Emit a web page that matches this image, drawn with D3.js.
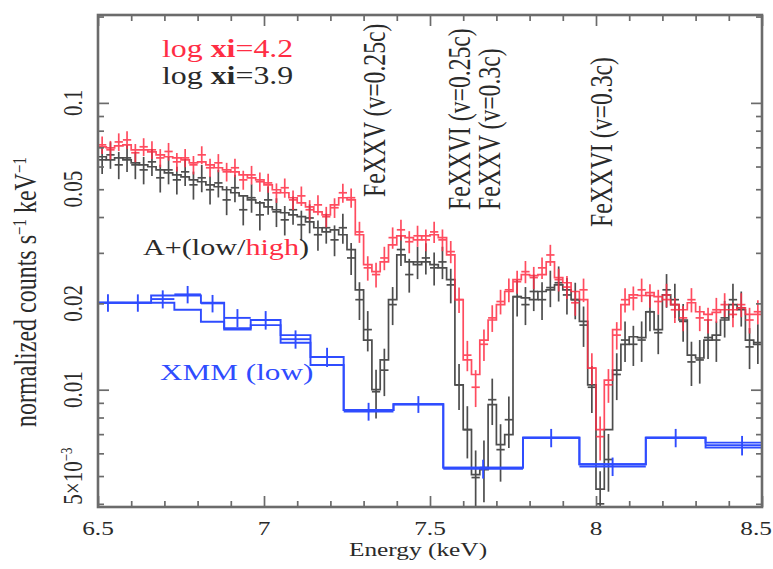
<!DOCTYPE html>
<html>
<head>
<meta charset="utf-8">
<script src="https://cdn.jsdelivr.net/npm/d3@7"></script>
<style>
  html, body { margin: 0; padding: 0; background: #fff; }
  svg { display: block; }
  text { font-family: "Liberation Serif", "Times New Roman", serif; }
</style>
</head>
<body>
<svg id="chart" width="773" height="569"></svg>
<script>
// ---- Suzaku spectra: 25 eV bins (centre energies, keV) ----
const suzakuEnergy = [6.5125,6.5375,6.5625,6.5875,6.6125,6.6375,6.6625,6.6875,6.7125,6.7375,
  6.7625,6.7875,6.8125,6.8375,6.8625,6.8875,6.9125,6.9375,6.9625,6.9875,
  7.0125,7.0375,7.0625,7.0875,7.1125,7.1375,7.1625,7.1875,7.2125,7.2375,
  7.2625,7.2875,7.3125,7.3375,7.3625,7.3875,7.4125,7.4375,7.4625,7.4875,
  7.5125,7.5375,7.5625,7.5875,7.6125,7.6375,7.6625,7.6875,7.7125,7.7375,
  7.7625,7.7875,7.8125,7.8375,7.8625,7.8875,7.9125,7.9375,7.9625,7.9875,
  8.0125,8.0375,8.0625,8.0875,8.1125,8.1375,8.1625,8.1875,8.2125,8.2375,
  8.2625,8.2875,8.3125,8.3375,8.3625,8.3875,8.4125,8.4375,8.4625,8.4875];
const suzakuHalfWidth = 0.0125;

// high state (log xi = 4.2)
const highData = [0.0714,0.0686,0.0731,0.0743,0.0670,0.0703,0.0686,0.0643,0.0677,0.0623,
  0.0643,0.0608,0.0659,0.0594,0.0618,0.0575,0.0594,0.0539,0.0561,0.0531,
  0.0526,0.0486,0.0506,0.0459,0.0474,0.0424,0.0441,0.0401,0.0431,0.0486,
  0.0467,0.0355,0.0266,0.0252,0.0288,0.0339,0.0361,0.0328,0.0344,0.0333,
  0.0355,0.0333,0.0303,0.0206,0.0132,0.0102,0.0144,0.0178,0.0203,0.0223,
  0.0238,0.0258,0.0246,0.0266,0.0295,0.0242,0.0228,0.0201,0.0223,0.0119,
  0.00686,0.0104,0.0155,0.0206,0.0209,0.0223,0.0213,0.0203,0.0214,0.0190,
  0.0178,0.0206,0.0178,0.0175,0.0190,0.0198,0.0183,0.0198,0.0175,0.0187];
const highErr = [0.0050,0.0051,0.0052,0.0053,0.0049,0.0050,0.0049,0.0047,0.0048,0.0046,
  0.0047,0.0045,0.0047,0.0044,0.0045,0.0043,0.0044,0.0041,0.0042,0.0041,
  0.0040,0.0038,0.0039,0.0036,0.0037,0.0034,0.0035,0.0033,0.0034,0.0037,
  0.0036,0.0030,0.0026,0.0025,0.0027,0.0029,0.0030,0.0029,0.0029,0.0029,
  0.0030,0.0029,0.0027,0.0021,0.0016,0.0015,0.0018,0.0019,0.0020,0.0021,
  0.0022,0.0023,0.0022,0.0023,0.0025,0.0022,0.0021,0.0020,0.0021,0.0015,
  0.0012,0.0014,0.0017,0.0020,0.0020,0.0021,0.0020,0.0020,0.0020,0.0019,
  0.0018,0.0020,0.0018,0.0018,0.0019,0.0019,0.0018,0.0019,0.0018,0.0018];
const highModel = [0.0703,0.0697,0.0708,0.0714,0.0686,0.0686,0.0675,0.0659,0.0649,0.0643,
  0.0633,0.0618,0.0623,0.0608,0.0594,0.0584,0.0575,0.0561,0.0548,0.0539,
  0.0518,0.0498,0.0486,0.0467,0.0448,0.0434,0.0417,0.0407,0.0441,0.0467,
  0.0459,0.0347,0.0273,0.0258,0.0279,0.0320,0.0344,0.0339,0.0333,0.0344,
  0.0347,0.0339,0.0295,0.0206,0.0127,0.0113,0.0149,0.0175,0.0198,0.0220,
  0.0242,0.0252,0.0250,0.0252,0.0279,0.0246,0.0236,0.0220,0.0206,0.0119,
  0.00726,0.0108,0.0162,0.0198,0.0214,0.0213,0.0218,0.0211,0.0206,0.0198,
  0.0190,0.0201,0.0187,0.0183,0.0186,0.0190,0.0190,0.0193,0.0183,0.0183];

// low state (log xi = 3.9)
const lowData = [0.0633,0.0659,0.0608,0.0643,0.0608,0.0584,0.0623,0.0548,0.0584,0.0539,
  0.0575,0.0518,0.0548,0.0498,0.0526,0.0459,0.0506,0.0424,0.0467,0.0407,
  0.0459,0.0417,0.0391,0.0424,0.0376,0.0397,0.0347,0.0367,0.0333,0.0367,
  0.0288,0.0206,0.0162,0.00984,0.0117,0.0198,0.0308,0.0252,0.0279,0.0288,
  0.0266,0.0279,0.0232,0.0104,0.00726,0.00494,0.00535,0.00923,0.00618,0.00786,
  0.0211,0.0198,0.0220,0.0206,0.0227,0.0236,0.0214,0.0206,0.0168,0.0102,
  0.0040,0.00571,0.0113,0.0149,0.0144,0.0149,0.0187,0.0158,0.0223,0.0206,
  0.0173,0.0125,0.0127,0.0152,0.0149,0.0178,0.0206,0.0193,0.0141,0.0146];
const lowErr = [0.0068,0.0070,0.0066,0.0069,0.0066,0.0064,0.0067,0.0061,0.0064,0.0060,
  0.0062,0.0058,0.0060,0.0056,0.0058,0.0053,0.0056,0.0050,0.0053,0.0048,
  0.0052,0.0048,0.0046,0.0048,0.0045,0.0046,0.0042,0.0044,0.0041,0.0044,
  0.0037,0.0031,0.0026,0.0019,0.0022,0.0030,0.0038,0.0034,0.0036,0.0036,
  0.0035,0.0036,0.0032,0.0019,0.0015,0.0012,0.0013,0.0017,0.0014,0.0016,
  0.0031,0.0030,0.0032,0.0031,0.0033,0.0033,0.0031,0.0030,0.0027,0.0019,
  0.0012,0.0013,0.0021,0.0024,0.0023,0.0024,0.0027,0.0025,0.0030,0.0028,
  0.0026,0.0022,0.0022,0.0024,0.0024,0.0026,0.0028,0.0027,0.0023,0.0023];
const lowModel = [0.0649,0.0633,0.0643,0.0633,0.0618,0.0608,0.0599,0.0584,0.0570,0.0561,
  0.0552,0.0539,0.0531,0.0518,0.0510,0.0498,0.0486,0.0474,0.0459,0.0448,
  0.0434,0.0424,0.0414,0.0407,0.0401,0.0385,0.0367,0.0355,0.0361,0.0347,
  0.0308,0.0223,0.0149,0.0100,0.0127,0.0206,0.0295,0.0279,0.0273,0.0279,
  0.0273,0.0266,0.0242,0.0104,0.00726,0.00506,0.00526,0.00887,0.00643,0.00697,
  0.0211,0.0209,0.0206,0.0220,0.0223,0.0232,0.0223,0.0206,0.0173,0.0104,
  0.0045,0.00726,0.0117,0.0144,0.0153,0.0152,0.0187,0.0162,0.0214,0.0198,
  0.0175,0.0132,0.0129,0.0149,0.0155,0.0175,0.0198,0.0190,0.0149,0.0144];

// ---- XMM-Newton spectrum (low state), coarse bins ----
const xmmEdges = [6.48,6.58,6.66,6.73,6.81,6.88,6.96,7.05,7.14,7.24,7.39,7.54,7.78,7.95,8.15,8.33,8.55];
const xmmData  = [0.0201,0.0201,0.0207,0.0215,0.0200,0.0178,0.0175,0.0150,0.0130,0.0084,0.0089,0.0053,0.0068,0.0054,0.0068,0.0064];
const xmmErr   = [0.0014,0.0014,0.0015,0.0015,0.0014,0.0013,0.0013,0.0011,0.0010,0.0006,0.0006,0.0004,0.0005,0.0004,0.0005,0.0005];
const xmmModelA = [0.0201,0.0201,0.0213,0.0213,0.0201,0.0164,0.0175,0.0155,0.0130,0.0085,0.0089,0.00535,0.0068,0.0055,0.0068,0.00654];
const xmmModelB = [0.0201,0.0201,0.0201,0.0190,0.01725,0.0162,0.0168,0.01458,0.0122,0.0085,0.0089,0.00535,0.0068,0.0055,0.0068,0.00628];

// ---- axes ----
const xTickValues = [6.5, 7, 7.5, 8, 8.5];
const xTickLabels = ["6.5", "7", "7.5", "8", "8.5"];
const yTickValues = [0.005, 0.01, 0.02, 0.05, 0.1];
const yTickLabels = ["5×10", "0.01", "0.02", "0.05", "0.1"];

// ---- absorption line identifications ----
const lineNames  = ["FeXXV (v=0.25c)", "FeXXVI (v=0.25c)", "FeXXV (v=0.3c)", "FeXXVI (v=0.3c)"];
const lineEnergy = [7.364, 7.620, 7.711, 8.048];

// ---- colours ----
const RED = "#ff2d44", BLACK = "#3a3a3a", BLUE = "#2f4cff", FRAME = "#6b6b6b", INK = "#2a2a2a";

const svg = d3.select("#chart");
const W = 773, H = 569;
const plot = { left: 98, right: 762, top: 15, bottom: 507 };
const STRETCH = 1.3; // glyphs in this figure are drawn horizontally widened

const x = d3.scaleLinear().domain([6.5, 8.5]).range([plot.left, plot.right]);
const y = d3.scaleLog().domain([0.0039, 0.2025]).range([plot.bottom, plot.top]);

svg.append("rect").attr("width", W).attr("height", H).attr("fill", "#fff");

svg.append("defs").append("clipPath").attr("id", "plotClip")
  .append("rect")
  .attr("x", plot.left).attr("y", plot.top)
  .attr("width", plot.right - plot.left).attr("height", plot.bottom - plot.top);

const dataLayer = svg.append("g").attr("clip-path", "url(#plotClip)");

// step-histogram model through consecutive bins
function stepModel(g, lo, hi, vals, color, width) {
  const pts = lo.map((e, i) => [e, vals[i]]);
  pts.push([hi[hi.length - 1], vals[vals.length - 1]]);
  const line = d3.line().x(d => x(d[0])).y(d => y(d[1])).curve(d3.curveStepAfter);
  g.append("path").attr("d", line(pts))
    .attr("fill", "none").attr("stroke", color).attr("stroke-width", width)
    .attr("stroke-linejoin", "miter");
}

// data crosses: bin-wide horizontal bar plus 1-sigma vertical bar
function crosses(g, lo, hi, mid, vals, errs, color, width) {
  const grp = g.append("g").attr("stroke", color).attr("stroke-width", width);
  vals.forEach((v, i) => {
    grp.append("line")
      .attr("x1", x(lo[i])).attr("x2", x(hi[i]))
      .attr("y1", y(v)).attr("y2", y(v));
    const lowV = Math.max(v - errs[i], 0.0025);
    grp.append("line")
      .attr("x1", x(mid[i])).attr("x2", x(mid[i]))
      .attr("y1", y(lowV)).attr("y2", y(v + errs[i]));
  });
}

const sLo = suzakuEnergy.map(e => e - suzakuHalfWidth);
const sHi = suzakuEnergy.map(e => e + suzakuHalfWidth);

// low state (black)
const gLow = dataLayer.append("g").attr("opacity", 0.9);
crosses(gLow, sLo, sHi, suzakuEnergy, lowData, lowErr, BLACK, 1.7);
stepModel(gLow, sLo, sHi, lowModel, BLACK, 1.7);

// high state (red)
const gHigh = dataLayer.append("g").attr("opacity", 0.85);
crosses(gHigh, sLo, sHi, suzakuEnergy, highData, highErr, RED, 1.7);
stepModel(gHigh, sLo, sHi, highModel, RED, 1.7);

// XMM (blue)
const xLo = xmmEdges.slice(0, -1), xHi = xmmEdges.slice(1);
const xMid = xLo.map((e, i) => (e + xHi[i]) / 2);
const gXmm = dataLayer.append("g");
stepModel(gXmm, xLo, xHi, xmmModelA, BLUE, 1.9);
stepModel(gXmm, xLo, xHi, xmmModelB, BLUE, 1.9);
crosses(gXmm, xLo, xHi, xMid, xmmData, xmmErr, BLUE, 1.9);

// ---- frame and ticks ----
const axes = svg.append("g");
const xMinor = x.ticks(20).filter(t => !xTickValues.some(v => Math.abs(v - t) < 1e-6));
const yMajor = [0.01, 0.1];
const yMinorOnly = y.ticks().filter(t => !yMajor.some(v => Math.abs(v - t) < 1e-9));

function styleAxis(g) {
  g.select(".domain").remove();
  g.selectAll("line").attr("stroke", FRAME).attr("stroke-width", 1.7);
}
const MAJ = 11, MIN = 6;
axes.append("g").attr("transform", `translate(0,${plot.bottom})`)
  .call(d3.axisBottom(x).tickValues(xTickValues).tickSize(-MAJ).tickFormat("")).call(styleAxis);
axes.append("g").attr("transform", `translate(0,${plot.bottom})`)
  .call(d3.axisBottom(x).tickValues(xMinor).tickSize(-MIN).tickFormat("")).call(styleAxis);
axes.append("g").attr("transform", `translate(0,${plot.top})`)
  .call(d3.axisTop(x).tickValues(xTickValues).tickSize(-MAJ).tickFormat("")).call(styleAxis);
axes.append("g").attr("transform", `translate(0,${plot.top})`)
  .call(d3.axisTop(x).tickValues(xMinor).tickSize(-MIN).tickFormat("")).call(styleAxis);
axes.append("g").attr("transform", `translate(${plot.left},0)`)
  .call(d3.axisLeft(y).tickValues(yMajor).tickSize(-MAJ).tickFormat("")).call(styleAxis);
axes.append("g").attr("transform", `translate(${plot.left},0)`)
  .call(d3.axisLeft(y).tickValues(yMinorOnly).tickSize(-MIN).tickFormat("")).call(styleAxis);
axes.append("g").attr("transform", `translate(${plot.right},0)`)
  .call(d3.axisRight(y).tickValues(yMajor).tickSize(-MAJ).tickFormat("")).call(styleAxis);
axes.append("g").attr("transform", `translate(${plot.right},0)`)
  .call(d3.axisRight(y).tickValues(yMinorOnly).tickSize(-MIN).tickFormat("")).call(styleAxis);

axes.append("rect")
  .attr("x", plot.left).attr("y", plot.top)
  .attr("width", plot.right - plot.left).attr("height", plot.bottom - plot.top)
  .attr("fill", "none").attr("stroke", FRAME).attr("stroke-width", 2.6);

// ---- text helpers ----
function hText(px, py, size, anchor) {
  return svg.append("text")
    .attr("transform", `translate(${px},${py}) scale(${STRETCH},1)`)
    .attr("font-size", size).attr("text-anchor", anchor || "start").attr("fill", INK);
}
function vText(px, py, size, anchor) {
  return svg.append("text")
    .attr("transform", `translate(${px},${py}) scale(${STRETCH},1) rotate(-90)`)
    .attr("font-size", size).attr("text-anchor", anchor || "start").attr("fill", INK);
}

// x tick labels (the last one is kept inside the page edge)
xTickValues.forEach((v, i) => {
  const last = i === xTickValues.length - 1;
  hText(last ? W - 1 : x(v), 535, 19.5, last ? "end" : "middle").text(xTickLabels[i]);
});
hText(418, 556, 19.5, "middle").text("Energy (keV)");

// y tick labels (rotated)
yTickValues.forEach((v, i) => {
  const t = vText(82, y(v), 21, "middle").text(yTickLabels[i]);
  if (v === 0.005) {
    t.append("tspan").attr("dy", -8).attr("font-size", 13).text("−3");
  }
});

// y axis title
const yt = vText(36, 292, 24, "middle");
yt.append("tspan").text("normalized counts s");
yt.append("tspan").attr("dy", -8).attr("font-size", 15).text("−1");
yt.append("tspan").attr("dy", 8).text(" keV");
yt.append("tspan").attr("dy", -8).attr("font-size", 15).text("−1");

// line identifications
const lineBottoms = [197, 210, 210, 227];
lineNames.forEach((n, i) => {
  vText(x(lineEnergy[i]), lineBottoms[i], 23.7).text(n);
});

// annotations
const t1 = hText(162, 57, 24.5).attr("fill", RED);
t1.append("tspan").text("log ");
t1.append("tspan").attr("font-weight", "bold").text("xi");
t1.append("tspan").text("=4.2");
const t2 = hText(162, 84, 24.5);
t2.append("tspan").text("log ");
t2.append("tspan").attr("font-weight", "bold").text("xi");
t2.append("tspan").text("=3.9");

const t3 = hText(143, 255, 23.2);
t3.append("tspan").text("A+(low/");
t3.append("tspan").attr("fill", RED).text("high");
t3.append("tspan").text(")");

hText(160, 380, 24).attr("fill", BLUE).text("XMM (low)");
</script>
</body>
</html>
